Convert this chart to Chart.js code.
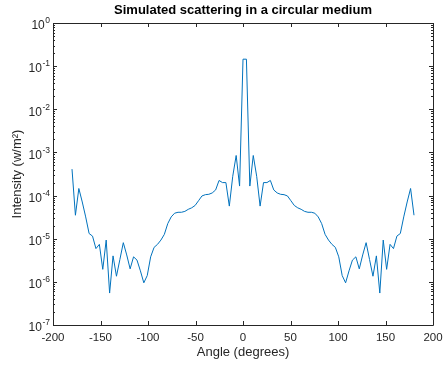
<!DOCTYPE html>
<html>
<head>
<meta charset="utf-8">
<script src="https://cdn.jsdelivr.net/npm/chart.js@4.4.0/dist/chart.umd.min.js"></script>
<style>
  html, body { margin: 0; padding: 0; background: #fff; }
  #wrap { width: 444px; height: 367px; }
</style>
</head>
<body>
<div id="wrap"><canvas id="chart"></canvas></div>
<script>
// scattering angle (degrees), one sample every 3.6 deg
const angles = [
  -180, -176.4, -172.8, -169.2, -165.6, -162, -158.4, -154.8, -151.2, -147.6,
  -144, -140.4, -136.8, -133.2, -129.6, -126, -122.4, -118.8, -115.2, -111.6,
  -108, -104.4, -100.8, -97.2, -93.6, -90, -86.4, -82.8, -79.2, -75.6,
  -72, -68.4, -64.8, -61.2, -57.6, -54, -50.4, -46.8, -43.2, -39.6,
  -36, -32.4, -28.8, -25.2, -21.6, -18, -14.4, -10.8, -7.2, -3.6,
  0, 3.6, 7.2, 10.8, 14.4, 18, 21.6, 25.2, 28.8, 32.4,
  36, 39.6, 43.2, 46.8, 50.4, 54, 57.6, 61.2, 64.8, 68.4,
  72, 75.6, 79.2, 82.8, 86.4, 90, 93.6, 97.2, 100.8, 104.4,
  108, 111.6, 115.2, 118.8, 122.4, 126, 129.6, 133.2, 136.8, 140.4,
  144, 147.6, 151.2, 154.8, 158.4, 162, 165.6, 169.2, 172.8, 176.4,
  180
];

// intensity (w/m^2)
const intensity = [
  4.1e-4, 3.5e-5, 1.46e-4, 7.1e-5, 3.2e-5, 1.32e-5, 1.15e-5, 5.9e-6, 7.4e-6, 1.95e-6,
  9.3e-6, 5.5e-7, 4.0e-6, 1.35e-6, 3.3e-6, 8.1e-6, 4.2e-6, 2.0e-6, 3.8e-6, 3.2e-6,
  1.8e-6, 9.5e-7, 1.4e-6, 3.8e-6, 6.3e-6, 7.4e-6, 9.3e-6, 1.26e-5, 2.24e-5, 3.2e-5,
  3.9e-5, 4.1e-5, 4.1e-5, 4.3e-5, 4.8e-5, 5.2e-5, 5.9e-5, 7.6e-5, 9.8e-5, 1.05e-4,
  1.07e-4, 1.15e-4, 1.35e-4, 2.24e-4, 2.0e-4, 2.0e-4, 5.7e-5, 2.8e-4, 8.5e-4, 1.66e-4,
  0.145, 0.145, 1.66e-4, 8.5e-4, 2.8e-4, 5.7e-5, 2.0e-4, 2.0e-4, 2.24e-4, 1.35e-4,
  1.15e-4, 1.07e-4, 1.05e-4, 9.8e-5, 7.6e-5, 5.9e-5, 5.2e-5, 4.8e-5, 4.3e-5, 4.1e-5,
  4.1e-5, 3.9e-5, 3.2e-5, 2.24e-5, 1.26e-5, 9.3e-6, 7.4e-6, 6.3e-6, 3.8e-6, 1.4e-6,
  9.5e-7, 1.8e-6, 3.2e-6, 3.8e-6, 2.0e-6, 4.2e-6, 8.1e-6, 3.3e-6, 1.35e-6, 4.0e-6,
  5.5e-7, 9.3e-6, 1.95e-6, 7.4e-6, 5.9e-6, 1.15e-5, 1.32e-5, 3.2e-5, 7.1e-5, 1.46e-4,
  3.5e-5
];

const xTicks = [-200, -150, -100, -50, 0, 50, 100, 150, 200];
const xTickLabels = ['-200', '-150', '-100', '-50', '0', '50', '100', '150', '200'];
const yExponents = [-7, -6, -5, -4, -3, -2, -1, 0];

const axisColor = '#262626';
const fontFamily = '"Liberation Sans", Arial, Helvetica, sans-serif';

// matlab style box: ticks inside on all four sides, labels 10^n with superscript
const matlabAxes = {
  id: 'matlabAxes',
  afterDatasetsDraw(chart) {
    const { ctx, chartArea: a, scales: { x, y } } = chart;
    ctx.save();
    ctx.strokeStyle = axisColor;
    ctx.lineWidth = 1;

    ctx.beginPath();
    ctx.rect(Math.round(a.left) + 0.5, Math.round(a.top) + 0.5,
      Math.round(a.right - a.left), Math.round(a.bottom - a.top));

    xTicks.forEach(v => {
      const px = Math.round(x.getPixelForValue(v)) + 0.5;
      ctx.moveTo(px, a.bottom); ctx.lineTo(px, a.bottom - 4);
      ctx.moveTo(px, a.top); ctx.lineTo(px, a.top + 4);
    });

    yExponents.forEach(e => {
      const py = Math.round(y.getPixelForValue(Math.pow(10, e))) + 0.5;
      ctx.moveTo(a.left, py); ctx.lineTo(a.left + 4, py);
      ctx.moveTo(a.right, py); ctx.lineTo(a.right - 4, py);
      if (e < 0) {
        for (let m = 2; m <= 9; m++) {
          const pm = Math.round(y.getPixelForValue(m * Math.pow(10, e))) + 0.5;
          ctx.moveTo(a.left, pm); ctx.lineTo(a.left + 2, pm);
          ctx.moveTo(a.right, pm); ctx.lineTo(a.right - 2, pm);
        }
      }
    });
    ctx.stroke();

    ctx.fillStyle = axisColor;
    ctx.font = '11.5px ' + fontFamily;
    ctx.textAlign = 'center';
    ctx.textBaseline = 'middle';
    xTicks.forEach((v, i) => {
      ctx.fillText(xTickLabels[i], x.getPixelForValue(v), a.bottom + 13);
    });

    yExponents.forEach(e => {
      const py = y.getPixelForValue(Math.pow(10, e));
      const sup = String(e);
      ctx.font = '8.5px ' + fontFamily;
      const supW = ctx.measureText(sup).width;
      const right = a.left - 3;
      ctx.textAlign = 'right';
      ctx.fillText(sup, right, py - 2);
      ctx.font = '12px ' + fontFamily;
      ctx.fillText('10', right - supW - 0.5, py + 3);
    });
    ctx.restore();
  }
};

const points = angles.map((a, i) => ({ x: a, y: intensity[i] }));

new Chart(document.getElementById('chart'), {
  type: 'line',
  data: {
    datasets: [{
      data: points,
      borderColor: '#0072BD',
      borderWidth: 1,
      pointRadius: 0,
      tension: 0,
      fill: false
    }]
  },
  options: {
    responsive: true,
    maintainAspectRatio: false,
    animation: false,
    layout: { padding: { left: 0, right: 11, top: 0, bottom: 0 } },
    plugins: {
      legend: { display: false },
      tooltip: { enabled: false },
      title: {
        display: true,
        text: 'Simulated scattering in a circular medium',
        fullSize: false,
        color: '#000',
        font: { family: fontFamily, size: 13, weight: 'bold' },
        padding: { top: 3, bottom: 4.4 }
      }
    },
    scales: {
      x: {
        type: 'linear',
        min: -200,
        max: 200,
        grid: { display: false },
        border: { display: false },
        ticks: { display: false },
        title: {
          display: true,
          text: 'Angle (degrees)',
          color: axisColor,
          font: { family: fontFamily, size: 13 },
          padding: { top: 0, bottom: 7 }
        },
        afterFit: s => { s.height = 42; }
      },
      y: {
        type: 'logarithmic',
        min: 1e-7,
        max: 1,
        grid: { display: false },
        border: { display: false },
        ticks: { display: false },
        title: {
          display: true,
          text: 'Intensity (w/m²)',
          color: axisColor,
          font: { family: fontFamily, size: 13 },
          padding: { top: 10, bottom: 0 }
        },
        afterFit: s => { s.width = 53; }
      }
    }
  },
  plugins: [matlabAxes]
});
</script>
</body>
</html>
